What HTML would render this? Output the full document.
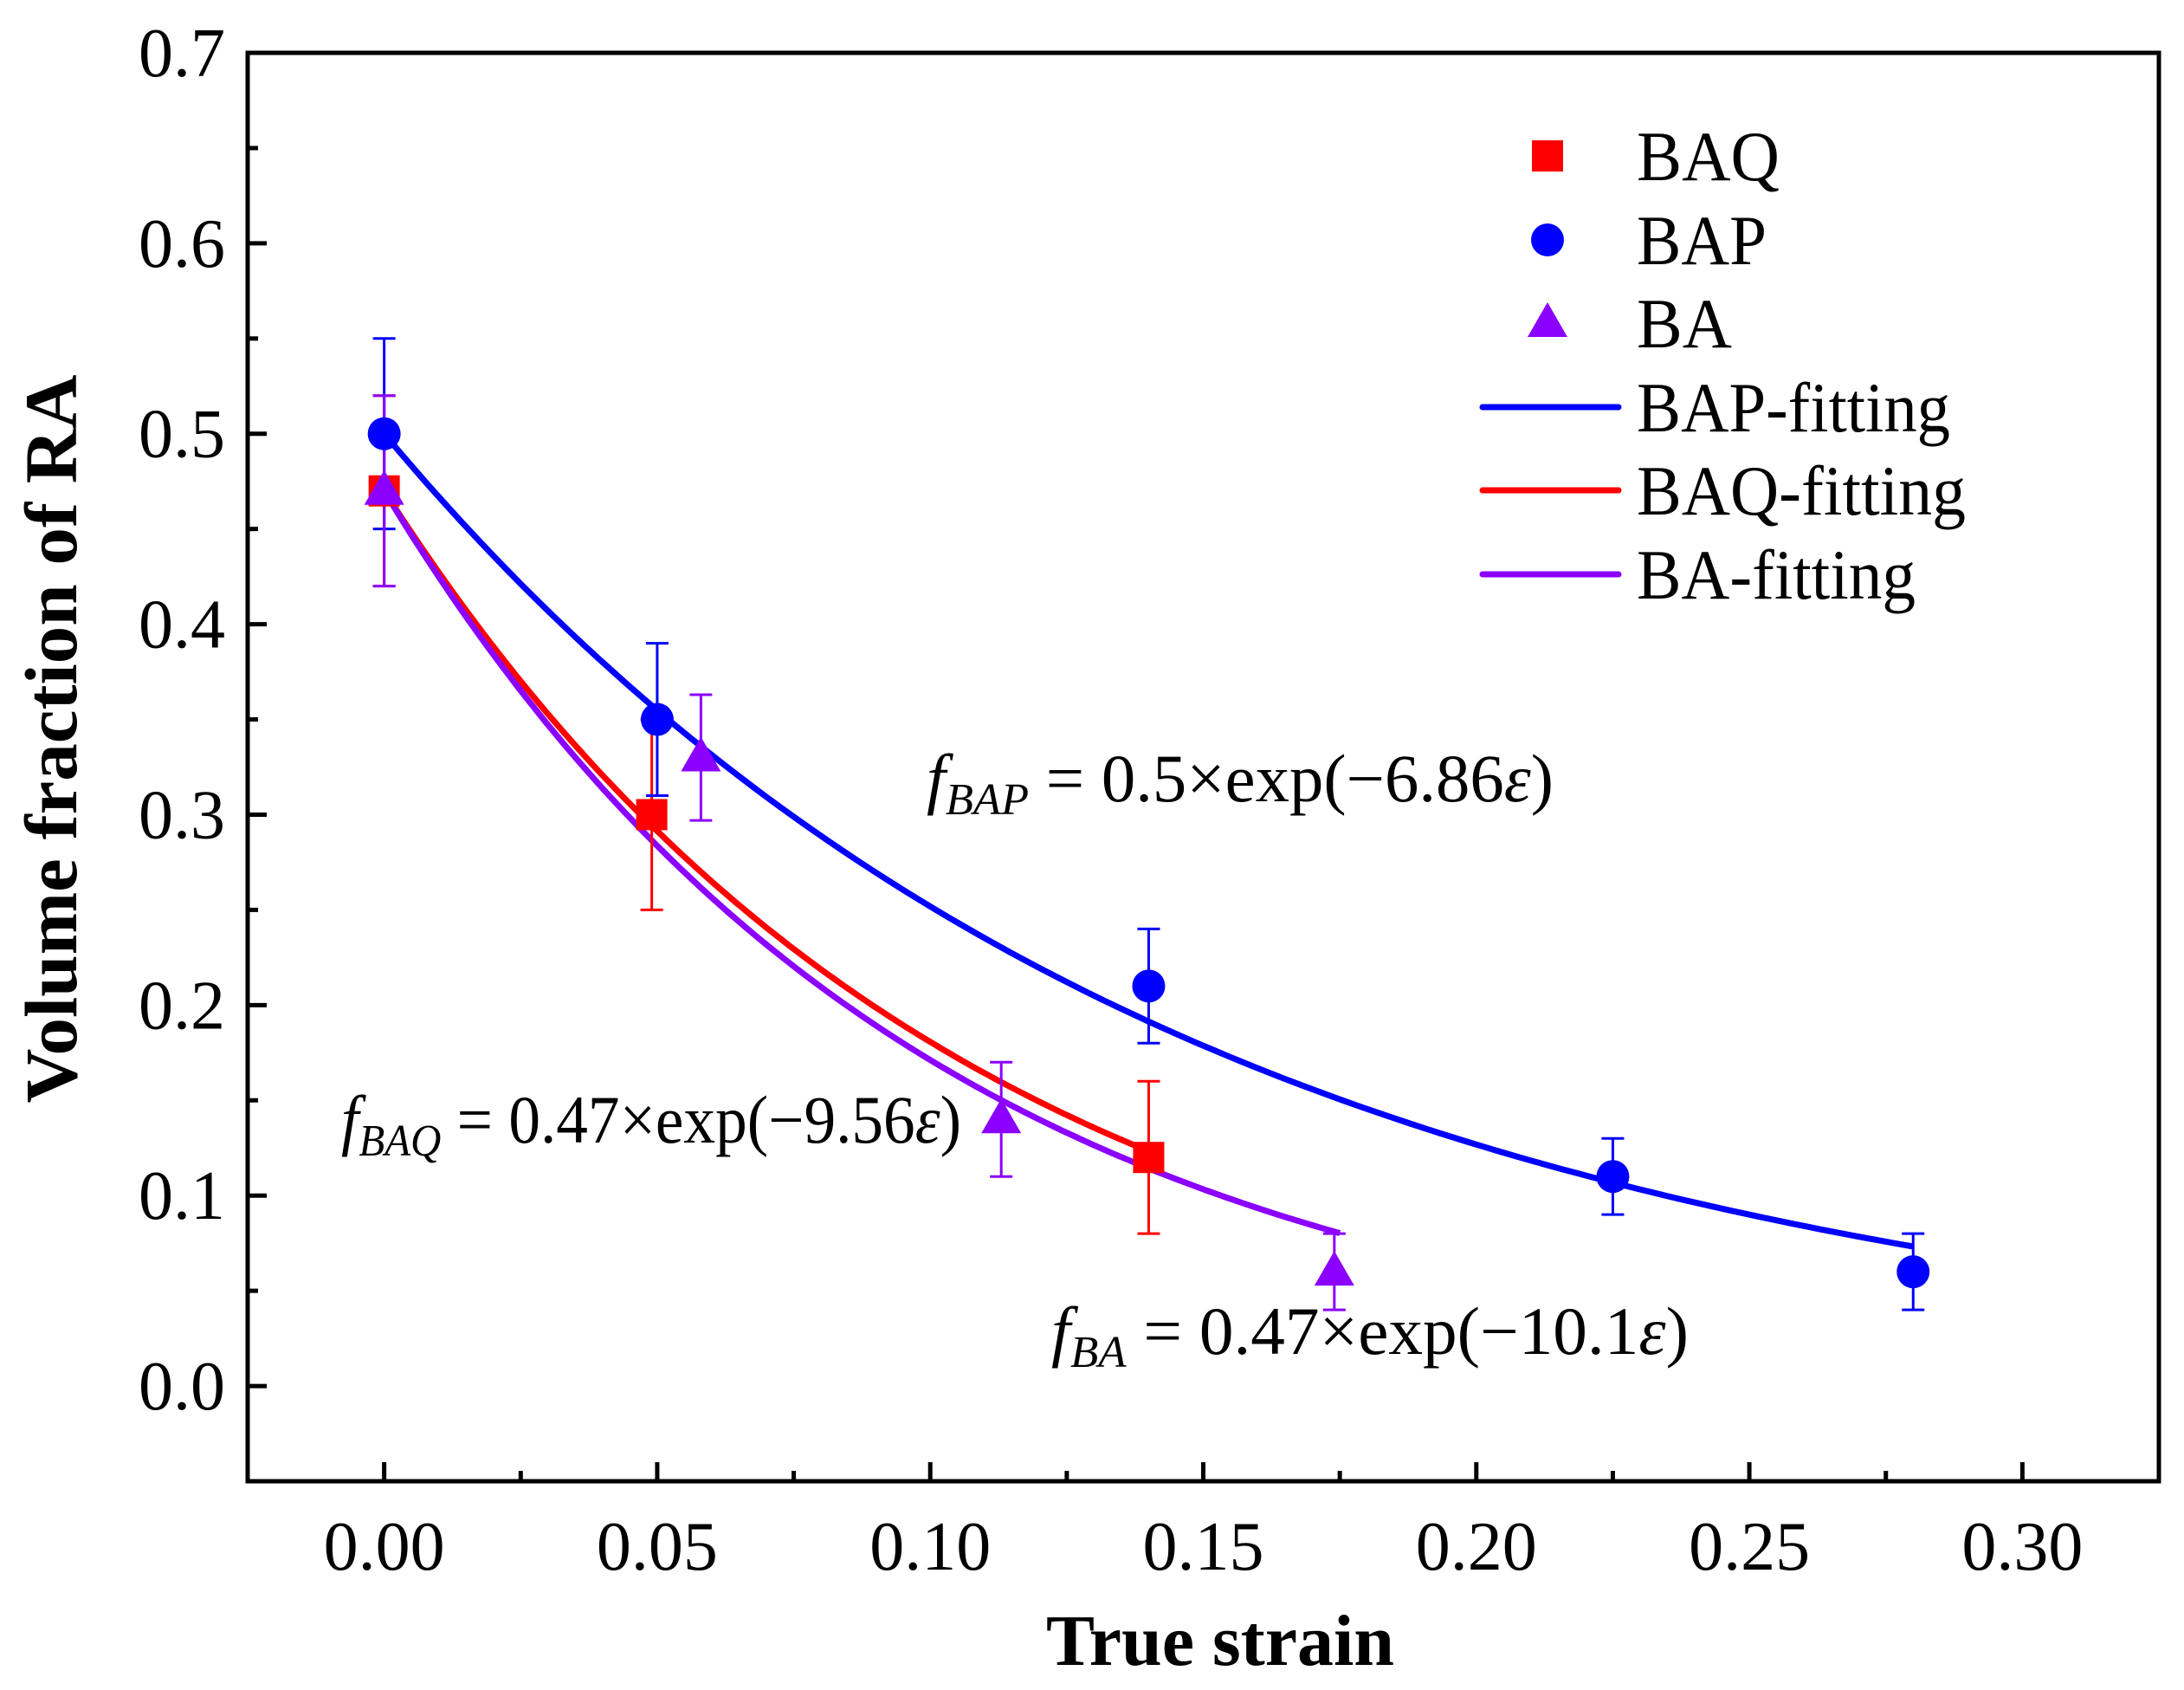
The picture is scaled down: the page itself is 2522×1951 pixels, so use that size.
<!DOCTYPE html>
<html><head><meta charset="utf-8"><style>html,body{margin:0;padding:0;background:#fff}svg{display:block}text{font-family:"Liberation Serif",serif}</style></head>
<body>
<svg id="c" width="2522" height="1951" viewBox="0 0 2522 1951" xmlns="http://www.w3.org/2000/svg"></svg>
<script>
const xTicks=[0,0.05,0.10,0.15,0.20,0.25,0.30];
const xTickLabels=["0.00","0.05","0.10","0.15","0.20","0.25","0.30"];
const yTicks=[0,0.1,0.2,0.3,0.4,0.5,0.6,0.7];
const yTickLabels=["0.0","0.1","0.2","0.3","0.4","0.5","0.6","0.7"];
const baqX=[0,0.049,0.14];
const baqY=[0.47,0.30,0.12];
const baqErr=[0.05,0.05,0.04];
const bapX=[0,0.05,0.14,0.225,0.28];
const bapY=[0.50,0.35,0.21,0.11,0.06];
const bapErr=[0.05,0.04,0.03,0.02,0.02];
const baX=[0,0.058,0.113,0.174];
const baY=[0.47,0.33,0.14,0.06];
const baErr=[0.05,0.033,0.03,0.02];
const fitA=[0.5,0.47,0.47];
const fitK=[6.86,9.56,10.1];
const fitEnd=[0.28,0.14,0.175];

const L=286,R=2493,T=61,B=1710;
const X0=-0.025,X1=0.325,Y0=-0.05,Y1=0.70;
const sx=v=>L+(v-X0)/(X1-X0)*(R-L);
const sy=v=>B-(v-Y0)/(Y1-Y0)*(B-T);
const svg=document.getElementById('c');
const NS='http://www.w3.org/2000/svg';
function mk(tag,attrs,parent){const e=document.createElementNS(NS,tag);for(const k in attrs)e.setAttribute(k,attrs[k]);(parent||svg).appendChild(e);return e;}

const ax=mk('g',{});


for(let v=0;v<=0.3001;v+=0.025){const x=sx(v);const major=Math.abs(v/0.05-Math.round(v/0.05))<1e-6;
 mk('line',{x1:x,x2:x,y1:B,y2:B-(major?22:12),stroke:'#000','stroke-width':5},ax);}
for(let v=0;v<=0.7001;v+=0.05){const y=sy(v);const major=Math.abs(v/0.1-Math.round(v/0.1))<1e-6;
 mk('line',{x1:L,x2:L+(major?22:12),y1:y,y2:y,stroke:'#000','stroke-width':5},ax);}
mk('rect',{x:L,y:T,width:R-L,height:B-T,fill:'none',stroke:'#000','stroke-width':5},ax);
xTicks.forEach((v,i)=>{const t=mk('text',{x:sx(v),y:1812,'font-size':80,'text-anchor':'middle'});t.textContent=xTickLabels[i];
 
 });
yTicks.forEach((v,i)=>{const t=mk('text',{x:260,y:sy(v)+27,'font-size':80,'text-anchor':'end'});t.textContent=yTickLabels[i];
 
 });
const xt=mk('text',{x:1409,y:1922,'font-size':84,'font-weight':'bold','text-anchor':'middle',textLength:402,lengthAdjust:'spacingAndGlyphs'});xt.textContent='True strain';


const yt=mk('text',{x:0,y:0,'font-size':86,'font-weight':'bold','text-anchor':'middle',textLength:841,lengthAdjust:'spacingAndGlyphs',transform:'translate(88,853) rotate(-90)'});yt.textContent='Volume fraction of RA';



const fitColors=['#0000ff','#ff0000','#8b00ff'];
const fitNames=['bap-fitting-curve','baq-fitting-curve','ba-fitting-curve'];
[0,1,2].forEach(j=>{let d='';for(let i=0;i<=100;i++){const v=fitEnd[j]*i/100;d+=(i?'L':'M')+sx(v).toFixed(1)+','+sy(fitA[j]*Math.exp(-fitK[j]*v)).toFixed(1);}
 const p=mk('path',{d:d,fill:'none',stroke:fitColors[j],'stroke-width':7});
 
 });

function errbar(x,y,e,col){const g=mk('g',{stroke:col,'stroke-width':3});
 mk('line',{x1:sx(x),x2:sx(x),y1:sy(y-e),y2:sy(y+e)},g);
 mk('line',{x1:sx(x)-13,x2:sx(x)+13,y1:sy(y-e),y2:sy(y-e)},g);
 mk('line',{x1:sx(x)-13,x2:sx(x)+13,y1:sy(y+e),y2:sy(y+e)},g);
 
 }
function square(cx,cy,col){return mk('rect',{x:cx-18,y:cy-18,width:36,height:36,fill:col});}
function circle(cx,cy,col){return mk('circle',{cx:cx,cy:cy,r:19,fill:col});}
function tri(cx,cy,col){return mk('polygon',{points:`${cx},${cy-24} ${cx+23},${cy+16} ${cx-23},${cy+16}`,fill:col});}

baqX.forEach((v,i)=>errbar(v,baqY[i],baqErr[i],'#ff0000'));
bapX.forEach((v,i)=>errbar(v,bapY[i],bapErr[i],'#0000ff'));
baX.forEach((v,i)=>errbar(v,baY[i],baErr[i],'#8b00ff'));
baqX.forEach((v,i)=>{const m=square(sx(v),sy(baqY[i]),'#ff0000');
 
 });
bapX.forEach((v,i)=>{const m=circle(sx(v),sy(bapY[i]),'#0000ff');
 
 });
baX.forEach((v,i)=>{const m=tri(sx(v),sy(baY[i]),'#8b00ff');
 
 });

const lg=mk('g',{});


const lx=1787,rows=[180,277,373,470,566,663];
const labels=['BAQ','BAP','BA','BAP-fitting','BAQ-fitting','BA-fitting'];
const lens=[165,150,110,362,380,322];
square(lx,rows[0],'#ff0000');circle(lx,rows[1],'#0000ff');tri(lx,rows[2],'#8b00ff');
mk('line',{x1:1712,x2:1869,y1:rows[3],y2:rows[3],stroke:'#0000ff','stroke-width':7,'stroke-linecap':'round'},lg);
mk('line',{x1:1712,x2:1869,y1:rows[4],y2:rows[4],stroke:'#ff0000','stroke-width':7,'stroke-linecap':'round'},lg);
mk('line',{x1:1712,x2:1869,y1:rows[5],y2:rows[5],stroke:'#8b00ff','stroke-width':7,'stroke-linecap':'round'},lg);
labels.forEach((s,i)=>{const t=mk('text',{x:1890,y:rows[i]+28,'font-size':82,textLength:lens[i],lengthAdjust:'spacingAndGlyphs'},lg);t.textContent=s;
 
 });

function eq(x,y,sub,rest,len,name){const t=mk('text',{x:x,y:y,'font-size':78,textLength:len,lengthAdjust:'spacingAndGlyphs'});
 t.innerHTML=`<tspan font-style="italic">f</tspan><tspan font-style="italic" font-size="52" dy="15">${sub}</tspan><tspan dy="-15"> = ${rest[0]}×exp(−${rest[1]}</tspan><tspan font-style="italic">ε</tspan><tspan>)</tspan>`;
 
 }
eq(1070,925,'BAP',['0.5','6.86'],724,'bap-equation');
eq(394,1319,'BAQ',['0.47','9.56'],716,'baq-equation');
eq(1214,1563,'BA',['0.47','10.1'],736,'ba-equation');
</script>
</body></html>
